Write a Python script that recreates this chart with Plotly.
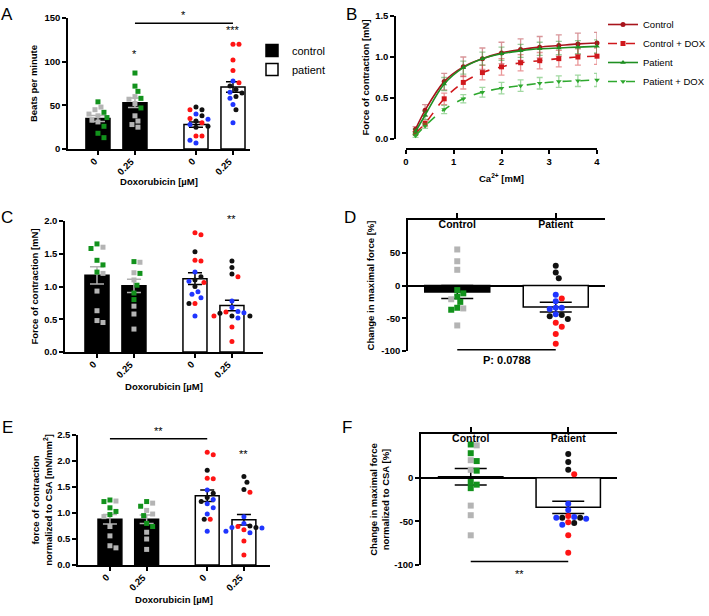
import plotly.graph_objects as go

W, H = 709, 616
FONT = "Liberation Sans, Arial, sans-serif"

# ---------------- data ----------------
DOSE_LABELS = ["0", "0.25", "0", "0.25"]
GROUP_LABELS = ["Control", "Patient"]

# A: beats per minute
A_mean = [35, 53, 28, 71]
A_sem = [3.5, 5.5, 3.0, 6.0]
A_ctrl_0 = dict(green=[54, 42, 36, 26, 18, 13], gray=[48, 45, 40, 38, 33, 31])
A_ctrl_025 = dict(green=[87, 72, 66, 58, 47], gray=[60, 57, 52, 38, 32, 28, 25])
A_pat_0 = dict(black=[48, 45, 38, 32, 26, 25], red=[45, 35, 30, 15, 15], blue=[40, 34, 28, 10, 7])
A_pat_025 = dict(red=[120, 120, 102, 90, 76], black=[72, 68, 64, 60, 45], blue=[78, 65, 58, 51, 30])

# B: force-calcium curves
CA = [0.2, 0.4, 0.8, 1.2, 1.6, 2.0, 2.4, 2.8, 3.2, 3.6, 4.0]
B_control = [0.12, 0.35, 0.70, 0.88, 0.98, 1.05, 1.09, 1.12, 1.14, 1.16, 1.17]
B_control_sem = [0.03, 0.07, 0.10, 0.12, 0.13, 0.13, 0.13, 0.13, 0.13, 0.13, 0.13]
B_control_dox = [0.07, 0.19, 0.49, 0.69, 0.81, 0.88, 0.93, 0.955, 0.98, 1.00, 1.01]
B_control_dox_sem = [0.02, 0.04, 0.07, 0.08, 0.09, 0.10, 0.10, 0.10, 0.10, 0.10, 0.10]
B_patient = [0.09, 0.29, 0.67, 0.87, 0.98, 1.04, 1.075, 1.10, 1.11, 1.12, 1.13]
B_patient_sem = [0.03, 0.05, 0.08, 0.08, 0.08, 0.08, 0.08, 0.08, 0.08, 0.08, 0.08]
B_patient_dox = [0.04, 0.16, 0.36, 0.49, 0.57, 0.62, 0.65, 0.68, 0.70, 0.71, 0.72]
B_patient_dox_sem = [0.02, 0.03, 0.05, 0.05, 0.06, 0.07, 0.07, 0.07, 0.07, 0.07, 0.08]

# C: force of contraction
C_mean = [1.17, 1.01, 1.12, 0.71]
C_sem = [0.13, 0.10, 0.09, 0.08]
C_ctrl_0 = dict(green=[1.65, 1.58, 1.40, 1.33, 1.22], gray=[1.60, 1.20, 0.93, 0.63, 0.48, 0.45])
C_ctrl_025 = dict(green=[1.38, 1.20, 1.02, 0.90, 0.80], gray=[1.37, 1.21, 1.10, 0.70, 0.58, 0.35])
C_pat_0 = dict(red=[1.82, 1.79, 1.40, 1.39, 1.06, 0.74], black=[1.53, 1.15, 1.10, 1.00, 0.74],
               blue=[1.22, 1.08, 0.92, 0.88, 0.83, 0.55])
C_pat_025 = dict(black=[1.39, 1.29, 1.19, 0.59, 0.55, 0.55], red=[1.15, 0.61, 0.55, 0.38, 0.16],
                 blue=[0.78, 0.68, 0.62, 0.60, 0.52])

# D: change in maximal force
D_mean = [-10, -33]
D_sem = [10, 7.5]
D_ctrl = dict(green=[-7, -12, -17, -25, -34, -37], gray=[55, 37, 24, -21, -35, -61])
D_pat = dict(black=[30, 20, 11, -45, -47, -51], blue=[-14, -24, -34, -36, -34, -44],
             red=[-20, -57, -63, -74, -89])

# E: force normalized to CSA
E_mean = [0.88, 0.88, 1.33, 0.87]
E_sem = [0.09, 0.08, 0.11, 0.10]
E_ctrl_0 = dict(green=[1.25, 1.22, 1.10, 1.03, 0.97], gray=[1.23, 0.93, 0.74, 0.56, 0.37, 0.33])
E_ctrl_025 = dict(green=[1.22, 1.13, 0.95, 0.80, 0.74], gray=[1.19, 1.05, 0.98, 0.63, 0.50, 0.30])
E_pat_0 = dict(red=[2.17, 2.12, 1.67, 1.66, 0.88], black=[1.82, 1.38, 1.30, 1.22, 0.88],
               blue=[1.44, 1.26, 1.18, 1.10, 0.98, 0.65])
E_pat_025 = dict(black=[1.70, 1.59, 1.45, 0.75, 0.72], red=[1.40, 0.74, 0.68, 0.46, 0.19],
                 blue=[0.93, 0.80, 0.72, 0.71, 0.65, 0.62])

# F: change in maximal force normalized to CSA
F_mean = [1, -34]
F_sem = [9.5, 7]
F_ctrl = dict(gray=[37, 20, 9, -32, -43, -66], green=[38, 28, 19, 8, -5, -8, -12])
F_pat = dict(black=[27, 18, 9, -46, -52, -46], red=[4, -44, -51, -66, -86],
             blue=[-30, -37, -46, -47, -45, -54])

COLORS = dict(green="#12921c", gray="#b4b4b4", red="#ff1414", blue="#1f35ff", black="#111111")


def px(x):
    return x / W


def py(y):
    return 1 - y / H


def swarm(vals, ppu, upx, d=6.0):
    # simple beeswarm: horizontal offsets (data units) so markers don't overlap
    order = sorted(range(len(vals)), key=lambda i: -vals[i])
    cands = [0.0]
    for k in range(1, 30):
        cands += [k * d / 2, -k * d / 2]
    placed, offs = [], [0.0] * len(vals)
    for i in order:
        y = vals[i] * ppu
        for c in cands:
            if all((c - ox) ** 2 + (y - oy) ** 2 >= d * d for ox, oy in placed):
                break
        placed.append((c, y))
        offs[i] = c / upx
    return offs


TICKFONT = dict(family=FONT, size=9.5, color="black", weight="bold")


def axis_style(**kw):
    base = dict(showline=True, linecolor="black", linewidth=1.5, ticks="outside", ticklen=4,
                tickwidth=1.5, tickcolor="black", showgrid=False, zeroline=False,
                tickfont=TICKFONT,
                title_font=dict(family=FONT, size=9.5, color="black", weight="bold"))
    base.update(kw)
    return base


fig = go.Figure()


def add_points(groups, centers, symbol, ppu, upx, xa, ya, size=5):
    for g, cx in zip(groups, centers):
        vals, cols = [], []
        for c, vs in g.items():
            vals += vs
            cols += [c] * len(vs)
        offs = swarm(vals, ppu, upx)
        for c in g:
            xs = [cx + o for o, cc in zip(offs, cols) if cc == c]
            ys = [v for v, cc in zip(vals, cols) if cc == c]
            fig.add_trace(go.Scatter(x=xs, y=ys, mode="markers", xaxis=xa, yaxis=ya, showlegend=False,
                                     cliponaxis=False, hoverinfo="y",
                                     marker=dict(symbol=symbol, size=size, color=COLORS[c])))


POS = [0, 1, 2.65, 3.65]


def bar_panel(xa, ya, means, sems, groups, ppu, upx, bottom_px, legend=False, bw=0.65, cap=7):
    fig.add_trace(go.Bar(x=POS[:2], y=means[:2], width=bw, xaxis=xa, yaxis=ya, name="control",
                         showlegend=legend, legend="legend",
                         marker=dict(color="black", line=dict(color="black", width=1.5)),
                         error_y=dict(type="data", array=sems[:2], color="#b0b0b0", thickness=1.5, width=cap)))
    fig.add_trace(go.Bar(x=POS[2:], y=means[2:], width=bw, xaxis=xa, yaxis=ya, name="patient",
                         showlegend=legend, legend="legend",
                         marker=dict(color="white", line=dict(color="black", width=1.5)),
                         error_y=dict(type="data", array=sems[2:], color="black", thickness=1.5, width=cap)))
    add_points(groups[:2], POS[:2], "square", ppu, upx, xa, ya)
    add_points(groups[2:], POS[2:], "circle", ppu, upx, xa, ya)
    # slanted dose labels under each tick
    for xv, lab in zip(POS, DOSE_LABELS):
        fig.add_annotation(x=xv, y=py(bottom_px), xref=xa, yref="paper", text=lab, showarrow=False,
                           xanchor="right", yanchor="top", textangle=-45, xshift=4, yshift=-4,
                           font=TICKFONT)


# ---- A ----
bar_panel("x", "y", A_mean, A_sem, [A_ctrl_0, A_ctrl_025, A_pat_0, A_pat_025], 130 / 150, 37, 149, legend=True)
# ---- C ----
bar_panel("x3", "y3", C_mean, C_sem, [C_ctrl_0, C_ctrl_025, C_pat_0, C_pat_025], 131 / 2.0, 37, 352)
# ---- E ----
bar_panel("x5", "y5", E_mean, E_sem, [E_ctrl_0, E_ctrl_025, E_pat_0, E_pat_025], 130 / 2.5, 36.7, 565)

# ---- B ----
b_series = [
    ("Control", B_control, B_control_sem, "#a8141c", "rgba(168,20,28,0.45)", "solid", "circle"),
    ("Control + DOX", B_control_dox, B_control_dox_sem, "#d0181c", "rgba(208,24,28,0.45)", "dash", "square"),
    ("Patient", B_patient, B_patient_sem, "#1f8f22", "rgba(31,143,34,0.45)", "solid", "triangle-up"),
    ("Patient + DOX", B_patient_dox, B_patient_dox_sem, "#2ea82e", "rgba(46,168,46,0.45)", "dash", "triangle-down"),
]
for name, ys, es, col, ecol, dash, sym in b_series:
    fig.add_trace(go.Scatter(x=CA, y=ys, name=name, mode="lines+markers", xaxis="x2", yaxis="y2",
                             legend="legend2", cliponaxis=False,
                             line=dict(color=col, width=1.6, dash=dash, shape="spline", smoothing=1.0),
                             marker=dict(symbol=sym, size=5, color=col),
                             error_y=dict(type="data", array=es, color=ecol, thickness=1.3, width=3)))


# ---- D / F ----
def change_panel(xa, ya, means, sems, groups, ppu):
    fig.add_trace(go.Bar(x=[0], y=[means[0]], width=0.66, xaxis=xa, yaxis=ya, showlegend=False,
                         marker=dict(color="black", line=dict(color="black", width=1.5)),
                         error_y=dict(type="data", array=[sems[0]], color="black", thickness=1.5, width=16)))
    fig.add_trace(go.Bar(x=[1], y=[means[1]], width=0.66, xaxis=xa, yaxis=ya, showlegend=False,
                         marker=dict(color="white", line=dict(color="black", width=1.5)),
                         error_y=dict(type="data", array=[sems[1]], color="black", thickness=1.5, width=16)))
    add_points([groups[0]], [0], "square", ppu, 98, xa, ya, size=6)
    add_points([groups[1]], [1], "circle", ppu, 98, xa, ya, size=6)


change_panel("x4", "y4", D_mean, D_sem, [D_ctrl, D_pat], 131 / 200)
change_panel("x6", "y6", F_mean, F_sem, [F_ctrl, F_pat], 131 / 150)

# ---------------- layout ----------------
dose_x = dict(tickmode="array", tickvals=POS, showticklabels=False)
cat_x = dict(tickmode="array", tickvals=[0, 1], ticktext=GROUP_LABELS, side="top", ticks="outside",
             ticklen=5, ticklabelposition="inside",
             tickfont=dict(family=FONT, size=10.5, color="black", weight="bold"))

fig.update_layout(
    width=W, height=H, margin=dict(l=0, r=0, t=0, b=0, autoexpand=False),
    paper_bgcolor="white", plot_bgcolor="white", barmode="overlay",
    font=dict(family=FONT, color="black"),
    xaxis=axis_style(domain=[px(68), px(250)], range=[-0.81, 4.11], anchor="y",
                     title=dict(text="Doxorubicin [µM]", standoff=25), **dose_x),
    yaxis=axis_style(domain=[py(149), py(18)], range=[0, 150], anchor="x",
                     tickvals=[0, 50, 100, 150], title=dict(text="Beats per minute", standoff=5)),
    xaxis2=axis_style(domain=[px(406), px(597)], range=[0, 4], anchor="free", position=py(149),
                      tickvals=[0, 1, 2, 3, 4], title=dict(text="Ca<sup>2+</sup> [mM]", standoff=8)),
    yaxis2=axis_style(domain=[py(139), py(16)], range=[0, 1.5], anchor="free", position=px(395),
                      tickvals=[0, 0.5, 1.0, 1.5], tickformat=".1f",
                      title=dict(text="Force of contraction [mN]", standoff=3)),
    xaxis3=axis_style(domain=[px(65), px(263)], range=[-0.865, 4.49], anchor="y3",
                      title=dict(text="Doxorubicin [µM]", standoff=27), **dose_x),
    yaxis3=axis_style(domain=[py(352), py(221)], range=[0, 2.0], anchor="x3",
                      tickvals=[0, 0.5, 1.0, 1.5, 2.0], tickformat=".1f",
                      title=dict(text="Force of contraction [mN]", standoff=4)),
    xaxis4=axis_style(domain=[px(408), px(605)], range=[-0.5, 1.5], anchor="y4", **cat_x),
    yaxis4=axis_style(domain=[py(351), py(220)], range=[-100, 100], anchor="x4",
                      zeroline=True, zerolinecolor="black", zerolinewidth=1.5,
                      tickvals=[-100, -50, 0, 50, 100], ticktext=["-100", "-50", "0", "50", "100"],
                      title=dict(text="Change in maximal force [%]", standoff=5)),
    xaxis5=axis_style(domain=[px(78), px(270)], range=[-0.87, 4.36], anchor="y5",
                      title=dict(text="Doxorubicin [µM]", standoff=27), **dose_x),
    yaxis5=axis_style(domain=[py(565), py(435)], range=[0, 2.5], anchor="x5",
                      tickvals=[0, 0.5, 1.0, 1.5, 2.0, 2.5], tickformat=".1f",
                      title=dict(text="force of contraction<br>normalized to CSA [mN/mm<sup>2</sup>]", standoff=3)),
    xaxis6=axis_style(domain=[px(421), px(617)], range=[-0.51, 1.5], anchor="y6", **cat_x),
    yaxis6=axis_style(domain=[py(565), py(434)], range=[-100, 50], anchor="x6",
                      zeroline=True, zerolinecolor="black", zerolinewidth=1.5,
                      tickvals=[-100, -50, 0, 50], ticktext=["-100", "-50", "0", "50"],
                      title=dict(text="Change in maximal force<br>normalized to CSA [%]", standoff=3)),
    legend=dict(x=px(252), y=py(36), xanchor="left", yanchor="top", bgcolor="rgba(0,0,0,0)",
                font=dict(family=FONT, size=11, color="black"), tracegroupgap=0),
    legend2=dict(x=px(603), y=py(10), xanchor="left", yanchor="top", bgcolor="rgba(0,0,0,0)",
                 font=dict(family=FONT, size=9.5, color="black"), tracegroupgap=0),
)

# significance bars
sig_lines = [("x", "y", 1, 3.65, 144), ("x5", "y5", 0, 2.65, 2.43), ("x4", "y4", 0, 1, -98), ("x6", "y6", 0, 1, -96)]
for xa, ya, x0, x1, yv in sig_lines:
    fig.add_shape(type="line", xref=xa, yref=ya, x0=x0, x1=x1, y0=yv, y1=yv,
                  line=dict(color="black", width=1.5))

star_font = dict(family=FONT, size=11, color="black")
notes = [
    ("x", "y", 2.32, 144, "*", "bottom", 0),
    ("x", "y", 1, 100, "*", "bottom", 0),
    ("x", "y", 3.65, 127, "***", "bottom", 0),
    ("x3", "y3", 3.65, 2.0, "**", "middle", 2),
    ("x5", "y5", 1.32, 2.43, "**", "bottom", 0),
    ("x5", "y5", 3.65, 1.98, "**", "bottom", 0),
    ("x4", "y4", 0.5, -98, "<b>P: 0.0788</b>", "top", -2),
    ("x6", "y6", 0.5, -96, "**", "top", -4),
]
for xa, ya, xv, yv, txt, yanc, ysh in notes:
    fig.add_annotation(x=xv, y=yv, xref=xa, yref=ya, text=txt, showarrow=False,
                       yanchor=yanc, yshift=ysh, font=star_font)

# panel letters
for letter, lx, ly in [("A", 7, 15), ("B", 351, 15), ("C", 7, 217), ("D", 350, 217), ("E", 7, 427), ("F", 347, 427)]:
    fig.add_annotation(x=px(lx), y=py(ly), xref="paper", yref="paper", text=letter, showarrow=False,
                       xanchor="center", yanchor="middle", font=dict(family=FONT, size=17, color="black"))

fig.write_html("out.html", config={"displayModeBar": False},
               post_script="document.body.style.margin='0';")
